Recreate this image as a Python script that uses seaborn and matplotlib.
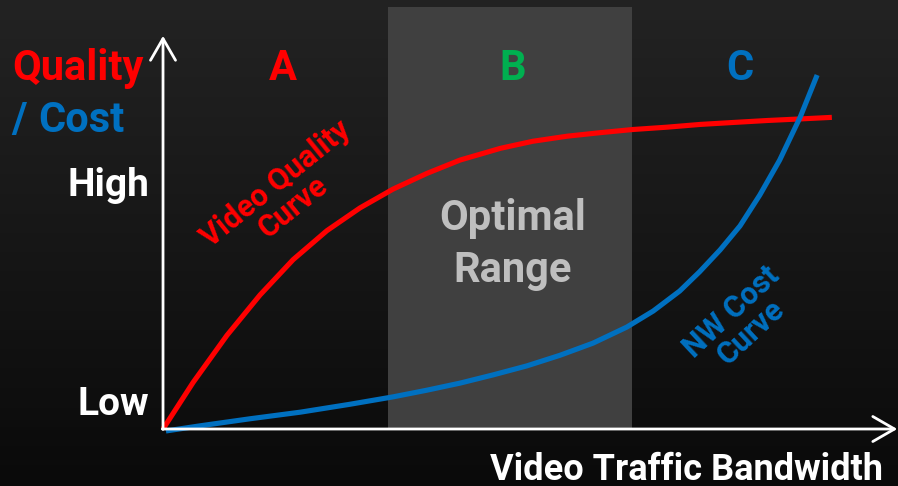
import numpy as np
import pandas as pd
import matplotlib
matplotlib.use("Agg")
import matplotlib.pyplot as plt
from matplotlib.colors import LinearSegmentedColormap
import seaborn as sns

# ---- data (arbitrary units: bandwidth 0-100, quality/cost 0-100) ----
quality_bandwidth = [0.0, 4.1, 8.7, 13.2, 17.7, 22.3, 26.8, 31.3, 35.9, 40.4,
                     45.9, 50.3, 55.0, 59.5, 63.9, 68.6, 73.1, 77.6, 82.2,
                     86.7, 91.0]
quality_values = [0.0, 11.9, 23.9, 34.2, 43.2, 50.6, 56.4, 61.2, 65.2, 68.6,
                  71.6, 73.4, 74.7, 75.6, 76.4, 77.0, 77.7, 78.2, 78.7,
                  79.1, 79.5]

cost_bandwidth = [0.4, 5.0, 11.8, 18.7, 25.4, 31.3, 35.9, 40.4, 44.9, 49.5,
                  54.0, 58.5, 63.1, 66.7, 70.3, 73.0, 75.8, 78.5, 81.2,
                  83.9, 86.7, 89.0]
cost_values = [-0.5, 0.8, 2.6, 4.3, 6.3, 8.2, 9.9, 11.7, 13.8, 16.1,
               18.8, 21.9, 26.0, 30.1, 35.2, 40.1, 45.7, 51.8, 59.7,
               68.6, 79.6, 90.3]

optimal_range = [30.6, 63.8]
region_labels = ["A", "B", "C"]
region_centers = [16.3, 47.5, 78.5]
y_tick_labels = ["Low", "High"]
y_tick_positions = [3.6, 59.4]

RED = "#FF0000"
BLUE = "#0070C0"
GREEN = "#00B050"
FONT = "Roboto"

df = pd.DataFrame({
    "bandwidth": quality_bandwidth + cost_bandwidth,
    "value": quality_values + cost_values,
    "curve": ["quality"] * len(quality_values) + ["cost"] * len(cost_values),
})

sns.set_theme(style="white")
plt.rcParams["font.family"] = [FONT, "DejaVu Sans"]

fig = plt.figure(figsize=(8.98, 4.86), dpi=100)
ax = fig.add_axes([0, 0, 1, 1])
xlim = (-22.18, 100.0)
ylim = (-14.54, 109.44)

# background gradient
grad = np.linspace(0, 1, 256).reshape(-1, 1)
cmap = LinearSegmentedColormap.from_list("bg", ["#0A0A0A", "#232323"])
ax.imshow(grad, extent=[xlim[0], xlim[1], ylim[1], ylim[0]], cmap=cmap,
          aspect="auto", zorder=0, origin="upper")

# optimal range band
ax.fill_between(optimal_range, [0, 0], [107.7, 107.7], color="#404040",
                zorder=1, linewidth=0)

sns.lineplot(data=df, x="bandwidth", y="value", hue="curve",
             palette={"quality": RED, "cost": BLUE}, sort=False,
             estimator=None, linewidth=3.7, legend=False, ax=ax,
             solid_capstyle="butt", solid_joinstyle="round", zorder=4)

# axes arrows
arrow_kw = dict(arrowstyle="->,head_length=1.3,head_width=0.75",
                color="white", lw=2, shrinkA=0, shrinkB=0)
ax.annotate("", xy=(0, 100.3), xytext=(0, -0.1), arrowprops=arrow_kw, zorder=5)
ax.annotate("", xy=(99.9, 0), xytext=(-0.1, 0), arrowprops=arrow_kw, zorder=5)

big = 30
# axis title
ax.text(-20.5, 89.0, "Quality", color=RED, fontsize=big, fontweight="bold",
        ha="left", va="baseline")
ax.text(-20.7, 75.8, "/", color=BLUE, fontsize=big, fontweight="bold",
        ha="left", va="baseline")
ax.text(-17.0, 75.8, "Cost", color=BLUE, fontsize=big, fontweight="bold",
        ha="left", va="baseline")

for lbl, pos in zip(y_tick_labels, y_tick_positions):
    ax.text(-1.9, pos, lbl, color="white", fontsize=28, fontweight="bold",
            ha="right", va="baseline")

for lbl, cx, col in zip(region_labels, region_centers, [RED, GREEN, BLUE]):
    ax.text(cx, 89.0, lbl, color=col, fontsize=big, fontweight="bold",
            ha="center", va="baseline")

ax.text(47.5, 50.8, "Optimal", color="#BFBFBF", fontsize=big, fontweight="bold",
        ha="center", va="baseline")
ax.text(47.5, 37.5, "Range", color="#BFBFBF", fontsize=big, fontweight="bold",
        ha="center", va="baseline")

ax.text(16.5, 59.6, "Video Quality\nCurve", color=RED, fontsize=22,
        fontweight="bold", ha="center", va="center", rotation=39,
        rotation_mode="anchor", multialignment="center", linespacing=0.95,
        zorder=6)
ax.text(78.6, 27.3, "NW Cost\nCurve", color=BLUE, fontsize=22,
        fontweight="bold", ha="center", va="center", rotation=43,
        rotation_mode="anchor", multialignment="center", linespacing=0.95,
        zorder=6)

ax.text(98.0, -12.9, "Video Traffic Bandwidth", color="white", fontsize=26,
        fontweight="bold", ha="right", va="baseline")

ax.set_xlim(*xlim)
ax.set_ylim(*ylim)
ax.axis("off")

fig.savefig("out.png", dpi=100)
